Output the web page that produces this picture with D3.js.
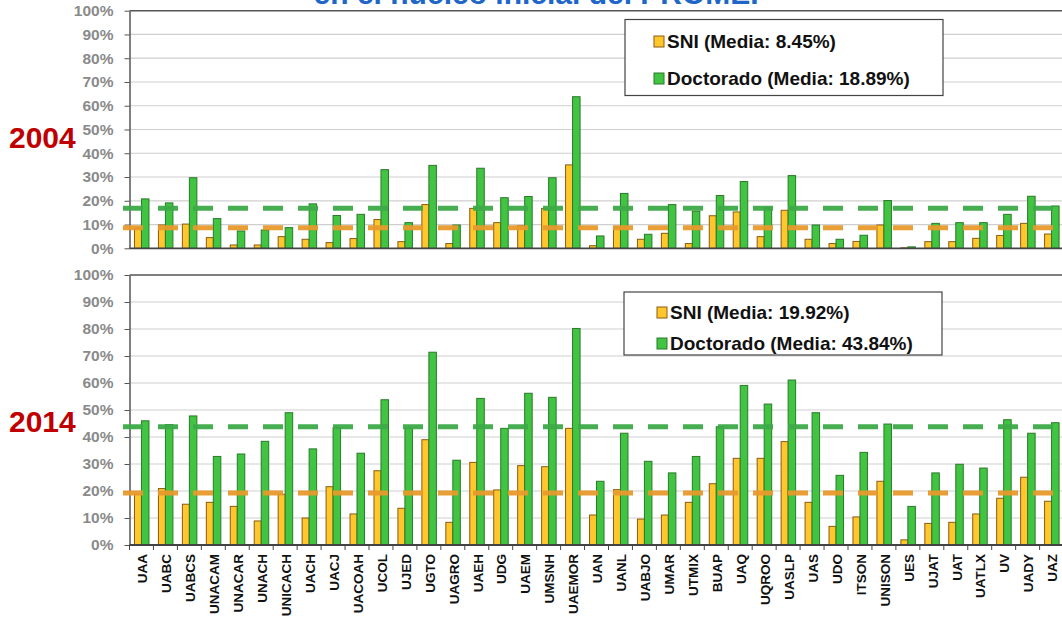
<!DOCTYPE html>
<html>
<head>
<meta charset="utf-8">
<script src="https://cdn.jsdelivr.net/npm/d3@7"></script>
<style>
  body { margin: 0; background: #fff; }
  svg { display: block; font-family: "Liberation Sans", Arial, sans-serif; }
</style>
</head>
<body>
<svg id="chart"></svg>
<script>
// === Data ===
const universities = ["UAA","UABC","UABCS","UNACAM","UNACAR","UNACH","UNICACH","UACH","UACJ","UACOAH",
  "UCOL","UJED","UGTO","UAGRO","UAEH","UDG","UAEM","UMSNH","UAEMOR","UAN","UANL","UABJO","UMAR",
  "UTMIX","BUAP","UAQ","UQROO","UASLP","UAS","UDO","ITSON","UNISON","UES","UJAT","UAT","UATLX",
  "UV","UADY","UAZ"];

const sni2004 = [8.5,9.8,10.2,4.5,1.4,1.4,4.9,3.8,2.4,4.1,12.1,2.8,18.4,2.0,16.8,10.8,9.5,16.8,35.1,1.1,
  9.0,3.8,6.3,2.0,13.7,15.3,4.9,16.0,3.8,2.0,2.9,9.8,0.2,2.8,2.8,4.2,5.4,10.5,6.0];
const doc2004 = [20.8,19.1,29.7,12.5,7.3,7.7,8.7,18.7,13.8,14.3,33.1,10.8,34.9,9.8,33.7,21.3,21.8,29.7,63.8,5.2,
  23.1,5.9,18.4,15.6,22.2,28.1,17.0,30.6,9.8,3.8,5.5,20.1,0.6,10.5,10.8,10.8,14.3,21.9,17.8];

const sni2014 = [18.8,20.9,15.1,15.8,14.3,8.9,18.8,10.0,21.6,11.5,27.5,13.6,39.0,8.4,30.6,20.4,29.4,29.0,43.2,11.1,
  20.5,9.6,11.1,15.8,22.7,32.1,32.1,38.3,15.8,6.9,10.4,23.6,1.9,8.0,8.4,11.5,17.3,25.1,16.2];
const doc2014 = [46.0,44.6,47.8,32.8,33.7,38.4,49.0,35.6,43.5,34.0,53.8,43.3,71.4,31.4,54.3,43.2,56.2,54.7,80.2,23.6,
  41.4,31.0,26.7,32.8,43.8,59.1,52.2,61.1,49.0,25.8,34.3,44.8,14.3,26.7,29.9,28.5,46.4,41.4,45.3];

// dashed mean lines as drawn in the picture
const means2004 = [8.6, 16.9];
const means2014 = [19.3, 43.8];

const legend2004 = ["SNI (Media: 8.45%)", "Doctorado (Media: 18.89%)"];
const legend2014 = ["SNI (Media: 19.92%)", "Doctorado (Media: 43.84%)"];

const yTicks = d3.range(0, 101, 10);

// === Setup ===
const W = 1062, H = 618;
const svg = d3.select("#chart").attr("width", W).attr("height", H);

const left = 129.5, band = 23.95;
const x = d3.scaleBand().domain(universities).range([left, left + band * universities.length]).padding(0);

const yellowFill = "#FFC72C", yellowStroke = "#8B5A10";
const greenFill = "#41C441", greenStroke = "#2A7A2A";
const orangeDash = "#E89A2C", greenDash = "#3DAA48";

// title, cut off at the top as in the slide
svg.append("text").attr("x", 542).attr("y", 4).attr("text-anchor", "middle")
  .style("font-size", "30px").style("font-weight", "bold").attr("fill", "#1E66C8")
  .text("en el núcleo inicial del PROMEP");

function drawPanel(top, bottom, sni, doc, means, legendText, legendBox, yearLabel, yearY, showLabels) {
  const y = d3.scaleLinear().domain([0, 100]).range([bottom, top]);
  const g = svg.append("g");

  // gridlines
  g.selectAll(".grid").data(yTicks.filter(d => d > 0 && d < 100)).enter().append("line")
    .attr("x1", left).attr("x2", W).attr("y1", d => y(d)).attr("y2", d => y(d))
    .attr("stroke", "#cfcfcf").attr("stroke-width", 1.2);

  // top border
  g.append("line").attr("x1", left).attr("x2", W).attr("y1", y(100)).attr("y2", y(100))
    .attr("stroke", "#555").attr("stroke-width", 1.5);

  // y axis
  const yAxis = g.append("g").attr("transform", `translate(${left},0)`)
    .call(d3.axisLeft(y).tickValues(yTicks).tickFormat(d => d + "%").tickSize(5).tickSizeOuter(0).tickPadding(11));
  yAxis.select(".domain").attr("stroke", "#555").attr("stroke-width", 1.5);
  yAxis.selectAll(".tick line").attr("stroke", "#555");
  yAxis.selectAll("text").attr("fill", "#8a8a8a").style("font-size", "15.5px").style("font-weight", "bold")
    .style("font-family", "'Liberation Sans', Arial, sans-serif");

  // bars
  const rows = universities.map((u, i) => ({ u, sni: sni[i], doc: doc[i] }));
  g.selectAll(".sni").data(rows).enter().append("rect")
    .attr("x", d => x(d.u) + x.bandwidth() / 2 - 7).attr("y", d => y(d.sni))
    .attr("width", 7).attr("height", d => y(0) - y(d.sni))
    .attr("fill", yellowFill).attr("stroke", yellowStroke).attr("stroke-width", 1);
  g.selectAll(".doc").data(rows).enter().append("rect")
    .attr("x", d => x(d.u) + x.bandwidth() / 2).attr("y", d => y(d.doc))
    .attr("width", 7.5).attr("height", d => y(0) - y(d.doc))
    .attr("fill", greenFill).attr("stroke", greenStroke).attr("stroke-width", 1);

  // mean lines
  [orangeDash, greenDash].forEach((c, i) => {
    g.append("line").attr("x1", 123).attr("x2", W).attr("y1", y(means[i])).attr("y2", y(means[i]))
      .attr("stroke", c).attr("stroke-width", 5).attr("stroke-dasharray", "20,15").attr("opacity", 0.95);
  });

  // x axis line
  g.append("line").attr("x1", left).attr("x2", W).attr("y1", y(0)).attr("y2", y(0))
    .attr("stroke", "#444").attr("stroke-width", 1.8);

  if (showLabels) {
    g.selectAll(".xtick").data(universities.concat(["end"])).enter().append("line")
      .attr("x1", (d, i) => left + i * x.step()).attr("x2", (d, i) => left + i * x.step())
      .attr("y1", y(0)).attr("y2", y(0) + 5).attr("stroke", "#444");
    const xAxis = g.append("g").attr("transform", `translate(0,${y(0)})`)
      .call(d3.axisBottom(x).tickSize(0).tickPadding(0));
    xAxis.select(".domain").remove();
    xAxis.selectAll("text")
      .attr("transform", "rotate(-90)").attr("x", -9).attr("y", 1).attr("dy", "0.35em")
      .style("text-anchor", "end").style("font-size", "13.5px").style("font-weight", "bold")
      .style("font-family", "'Liberation Sans', Arial, sans-serif").attr("fill", "#111");
  }

  // legend
  const lg = svg.append("g");
  lg.append("rect").attr("x", legendBox.x).attr("y", legendBox.y).attr("width", legendBox.w).attr("height", legendBox.h)
    .attr("fill", "#fff").attr("stroke", "#444").attr("stroke-width", 1.2);
  [[yellowFill, yellowStroke], [greenFill, greenStroke]].forEach((c, i) => {
    const by = legendBox.rows[i];
    lg.append("rect").attr("x", legendBox.sx).attr("y", by - 12).attr("width", 10).attr("height", 11)
      .attr("fill", c[0]).attr("stroke", c[1]);
    lg.append("text").attr("x", legendBox.sx + 13).attr("y", by)
      .style("font-size", "19px").style("font-weight", "bold").attr("fill", "#111")
      .text(legendText[i]);
  });

  // year label
  svg.append("text").attr("x", 9).attr("y", yearY)
    .style("font-size", "30px").style("font-weight", "bold").attr("fill", "#C00000")
    .text(yearLabel);
}

drawPanel(10.7, 248.3, sni2004, doc2004, means2004, legend2004,
  { x: 625, y: 19.5, w: 318, h: 76, sx: 654, rows: [48, 85] }, "2004", 148, false);
drawPanel(275, 545, sni2014, doc2014, means2014, legend2014,
  { x: 624, y: 292, w: 318, h: 63, sx: 657, rows: [319, 350] }, "2014", 432, true);
</script>
</body>
</html>
